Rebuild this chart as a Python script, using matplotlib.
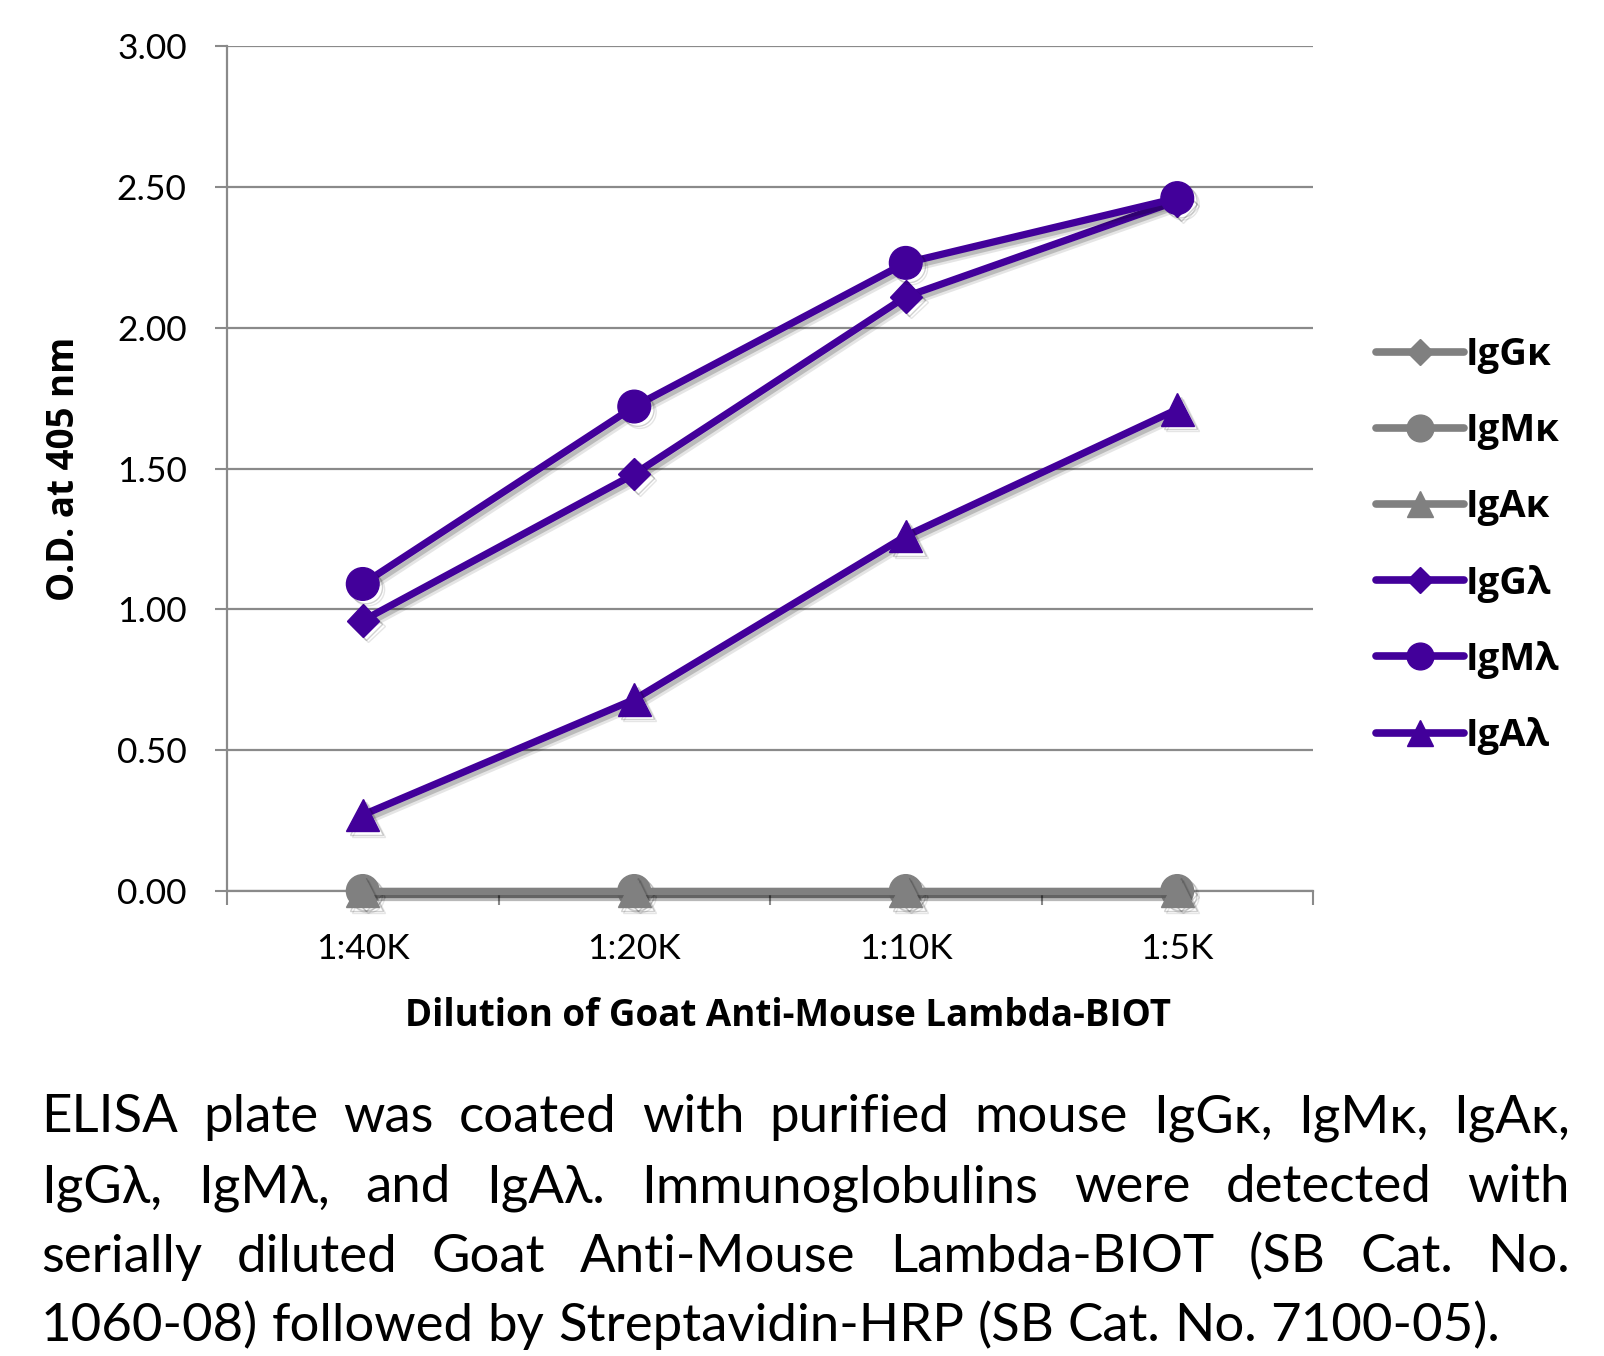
import matplotlib
matplotlib.use("Agg")
import matplotlib.pyplot as plt
import matplotlib.patheffects as pe
import numpy as np

# -------------------------
# DATA
# -------------------------
dilutions = ["1:40K", "1:20K", "1:10K", "1:5K"]

IgG_k = [0.0, 0.0, 0.0, 0.0]
IgM_k = [0.0, 0.0, 0.0, 0.0]
IgA_k = [0.0, 0.0, 0.0, 0.0]
IgG_l = [0.96, 1.48, 2.11, 2.45]
IgM_l = [1.09, 1.72, 2.23, 2.46]
IgA_l = [0.27, 0.68, 1.26, 1.71]

series_names = ["IgGκ", "IgMκ", "IgAκ", "IgGλ", "IgMλ", "IgAλ"]

caption_lines = [
    "ELISA plate was coated with purified mouse IgGκ, IgMκ, IgAκ,",
    "IgGλ, IgMλ, and IgAλ.  Immunoglobulins were detected with",
    "serially diluted Goat Anti-Mouse Lambda-BIOT (SB Cat. No.",
    "1060-08) followed by Streptavidin-HRP (SB Cat. No. 7100-05).",
]

# -------------------------
# STYLE
# -------------------------
plt.rcParams['font.family'] = ['Lato', 'Noto Sans', 'DejaVu Sans']
BOLD = ['Open Sans', 'Noto Sans', 'DejaVu Sans']

GRAY = "#808080"
PURPLE = "#42009A"
GRID = "#8a8a8a"

W, H = 1604, 1356
fig = plt.figure(figsize=(W / 100, H / 100), dpi=100)
ax = fig.add_axes([227 / W, 1 - 891 / H, (1313 - 227) / W, (891 - 46) / H])

x = np.arange(len(dilutions))
shadow = [pe.SimpleLineShadow(offset=(2.5, -2.5), shadow_color="k", alpha=0.18),
          pe.SimpleLineShadow(offset=(4, -4), shadow_color="k", alpha=0.10),
          pe.Normal()]

data = [IgG_k, IgM_k, IgA_k, IgG_l, IgM_l, IgA_l]
markers = ["D", "o", "^", "D", "o", "^"]
colors = [GRAY, GRAY, GRAY, PURPLE, PURPLE, PURPLE]
sizes = {"D": 16.5, "o": 23.5, "^": 23.5}

for vals, name, m, c in zip(data, series_names, markers, colors):
    ax.plot(x, vals, color=c, lw=5.2, marker=m, ms=sizes[m], mec=c, mfc=c,
            label=name, clip_on=False, zorder=3, path_effects=shadow,
            solid_capstyle="round")

ax.set_xlim(-0.5, 3.5)
ax.set_ylim(0, 3.0)
ax.set_yticks(np.arange(0, 3.01, 0.5))
ax.set_yticklabels([f"{v:.2f}" for v in np.arange(0, 3.01, 0.5)])
ax.set_xticks(x)
ax.set_xticklabels(dilutions)
ax.set_xticks(np.arange(-0.5, 3.6, 1.0), minor=True)

ax.tick_params(axis="y", which="major", length=9, width=1.5, color=GRID,
               direction="out", pad=20, labelsize=25.5)
ax.tick_params(axis="x", which="major", length=0, pad=30, labelsize=25.5)
ax.tick_params(axis="x", which="minor", length=10, width=1.5, color=GRID,
               direction="out")

ax.grid(axis="y", color=GRID, lw=1.6, zorder=0)
ax.set_axisbelow(True)
for s in ["top", "right"]:
    ax.spines[s].set_visible(False)
for s in ["left", "bottom"]:
    ax.spines[s].set_color(GRID)
    ax.spines[s].set_linewidth(1.6)

ax.set_ylabel("O.D. at 405 nm", fontsize=26.5, fontweight="bold", va="center",
              family=BOLD)
ax.yaxis.set_label_coords((64 - 227) / 1086, 0.5)
ax.set_xlabel("Dilution of Goat Anti-Mouse Lambda-BIOT", fontsize=26.5,
              fontweight="bold", va="center", family=BOLD)
ax.xaxis.set_label_coords((788 - 227) / 1086, (891 - 1016) / 845)

leg = ax.legend(loc="upper left", bbox_to_anchor=(1376 / W, 1 - 336 / H),
                bbox_transform=fig.transFigure, frameon=False, borderpad=0,
                borderaxespad=0, handlelength=2.3, handletextpad=0.05,
                labelspacing=1.0, markerscale=0.82,
                prop={"size": 27.5, "weight": "bold", "family": BOLD})
for ln in leg.get_lines():
    ln.set_path_effects([])
    ln.set_linewidth(5.5)

# -------------------------
# CAPTION (justified)
# -------------------------
fig.canvas.draw()
renderer = fig.canvas.get_renderer()
x0, x1 = 41, 1570
baselines = [1132, 1202, 1272, 1341]
cap_fs = 38
for i, (line, yb) in enumerate(zip(caption_lines, baselines)):
    words = line.split()
    texts = [fig.text(0, 1 - yb / H, w, fontsize=cap_fs, va="baseline", ha="left")
             for w in words]
    widths = [t.get_window_extent(renderer).width for t in texts]
    if i < len(caption_lines) - 1:
        gap = (x1 - x0 - sum(widths)) / (len(words) - 1)
    else:
        sp = fig.text(0, 0, "a a", fontsize=cap_fs)
        sa = fig.text(0, 0, "aa", fontsize=cap_fs)
        gap = sp.get_window_extent(renderer).width - sa.get_window_extent(renderer).width
        sp.remove()
        sa.remove()
    pos = x0
    for t, wdt in zip(texts, widths):
        t.set_x(pos / W)
        pos += wdt + gap

fig.savefig("out.png", dpi=100)
